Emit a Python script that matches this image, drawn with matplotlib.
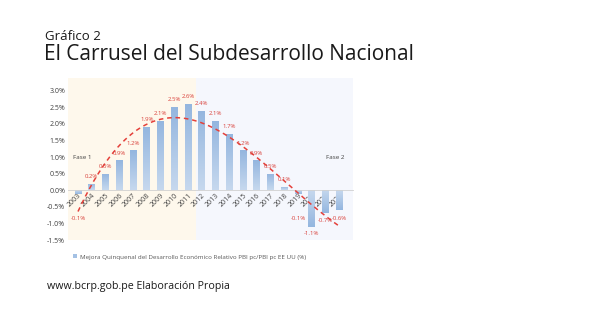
import numpy as np
import matplotlib.pyplot as plt
from matplotlib.colors import LinearSegmentedColormap

years = [str(y) for y in range(2003, 2023)]
mejora = [-0.1, 0.2, 0.5, 0.9, 1.2, 1.9, 2.1, 2.5, 2.6, 2.4,
          2.1, 1.7, 1.2, 0.9, 0.5, 0.1, -0.1, -1.1, -0.7, -0.6]
yticks = [-1.5, -1.0, -0.5, 0.0, 0.5, 1.0, 1.5, 2.0, 2.5, 3.0]
fase_split = 8.6

plt.rcParams['font.family'] = ['Open Sans', 'DejaVu Sans']

fig = plt.figure(figsize=(5.89, 3.31), dpi=100)
ax = fig.add_axes([0.1154, 0.2749, 0.4839, 0.4894])

x = np.arange(len(years))
v = np.array(mejora)
xmin, xmax = -0.73, 20.0

# phase shading
ax.axvspan(xmin, fase_split, color='#fef8ec', zorder=0, lw=0)
ax.axvspan(fase_split, xmax, color='#f5f7fd', zorder=0, lw=0)

bars = ax.bar(x, v, width=0.5, color='#a4c1e4', zorder=2,
              label='Mejora Quinquenal del Desarrollo Económico Relativo PBI pc/PBI pc EE UU (%)')

# gradient fill: light at the base, darker at the bar end
cmap = LinearSegmentedColormap.from_list('barfill', ['#c6d8ee', '#94b6df'])
grad = np.linspace(0, 1, 64).reshape(-1, 1)
for b, vi in zip(bars, v):
    x0 = b.get_x()
    w = b.get_width()
    img = ax.imshow(grad, cmap=cmap, aspect='auto', origin='lower',
                    extent=(x0, x0 + w, 0, vi), zorder=2.1)
    img.set_clip_path(b)
ax.set_xlim(xmin, xmax)
ax.set_ylim(-1.5, 3.38)

# polynomial trend line (order 3)
coef = np.polyfit(x, v, 3)
xs = np.linspace(0, len(years) - 1, 200)
ax.plot(xs, np.polyval(coef, xs), color='#e4403a', lw=1.1, ls=(0, (3, 2.5)), zorder=3)

# value labels
for xi, vi in zip(x, v):
    if vi >= 0:
        yl = vi + 0.22
    else:
        yl = min(vi - 0.2, -0.85)
    ax.text(xi, yl, f'{vi:.1f}%', ha='center', va='center', fontsize=4.3,
            color='#d9413b', zorder=4)

ax.text(-0.35, 1.0, 'Fase 1', fontsize=4.5, color='#404040', va='center')
ax.text(19.4, 1.0, 'Fase 2', fontsize=4.5, color='#404040', va='center', ha='right')

for s in ['top', 'right', 'left']:
    ax.spines[s].set_visible(False)
ax.spines['bottom'].set_position(('data', 0))
ax.spines['bottom'].set_color('#d0d0d0')
ax.spines['bottom'].set_linewidth(0.6)
ax.spines['bottom'].set_bounds(xmin, xmax)

ax.set_xticks(x)
ax.set_xticklabels(years, rotation=45, ha='right', rotation_mode='anchor',
                   fontsize=5, color='#404040')
ax.set_yticks(yticks)
ax.set_yticklabels([f'{t:.1f}%' for t in yticks], fontsize=5, color='#404040')
ax.tick_params(axis='both', length=0, pad=2)
ax.tick_params(axis='x', pad=1)
ax.set_facecolor('none')

fig.legend(loc='center left', bbox_to_anchor=(0.115, 1 - 257 / 331), frameon=False,
           fontsize=4.5, handlelength=0.6, handleheight=0.6, handletextpad=0.4,
           labelcolor='#595959')

fig.text(45 / 589, 1 - 40 / 331, 'Gráfico 2', fontsize=9.5, color='#1a1a1a', va='baseline')
fig.text(44 / 589, 1 - 60.5 / 331, 'El Carrusel del Subdesarrollo Nacional', fontsize=15,
         color='#1a1a1a', va='baseline')
fig.text(47 / 589, 1 - 289 / 331, 'www.bcrp.gob.pe Elaboración Propia', fontsize=7.7,
         color='#1a1a1a', va='baseline')

fig.savefig('out.png', dpi=100)
